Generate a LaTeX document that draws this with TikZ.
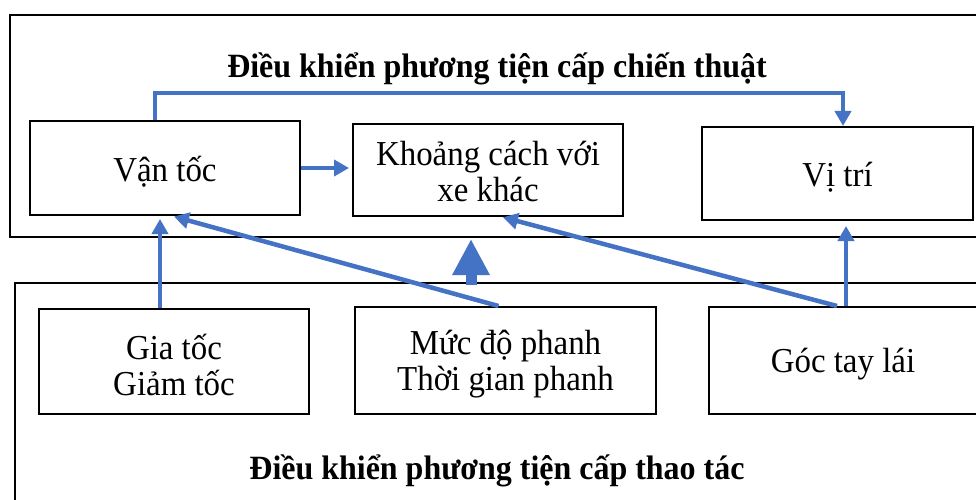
\documentclass[tikz,border=0pt]{standalone}
\usepackage{fontspec}
\setmainfont{Liberation Serif}[FakeStretch=0.94]
\usetikzlibrary{arrows.meta}
\definecolor{arrblue}{HTML}{4472C4}
\begin{document}
\begin{tikzpicture}[x=1pt,y=-1pt,
  box/.style={draw=black,line width=2pt,rectangle,inner sep=0pt},
  lbl/.style={inner sep=0pt,align=center,font=\fontsize{35}{36}\selectfont},
  title/.style={font=\fontsize{34}{38}\selectfont\bfseries},
  arr/.style={draw=arrblue,line width=4.5pt,-{Triangle[length=15pt,width=16pt]}},
  bigarr/.style={draw=arrblue,line width=11pt,-{Triangle[length=36pt,width=35pt]}}]
\useasboundingbox (0,0) rectangle (976,500);
\clip (0,0) rectangle (976,500);
\fill[white] (0,0) rectangle (976,500);
% outer frames
\draw[line width=2pt] (10,15) rectangle (995,237);
\draw[line width=2pt] (15,283) rectangle (995,515);
\coordinate (topbot) at (471,237);
\coordinate (botop) at (471,285);
\node[title] (t1) at (497,69) {Điều khiển phương tiện cấp chiến thuật};
\node[title] (t2) at (497,471) {Điều khiển phương tiện cấp thao tác};
% boxes
\node[box,minimum width=270pt,minimum height=94pt] (vt) at (165,168) {};
\node[box,minimum width=270pt,minimum height=92pt] (kc) at (488,170) {};
\node[box,minimum width=271pt,minimum height=93pt] (vtri) at (837.5,173.5) {};
\node[box,minimum width=270pt,minimum height=105pt] (gt) at (174,361.5) {};
\node[box,minimum width=301pt,minimum height=107pt] (md) at (505.5,360.5) {};
\node[box,minimum width=268pt,minimum height=107pt] (gl) at (843,360.5) {};
% texts
\node[lbl] (vtT) at ([yshift=-4pt]vt.center) {Vận tốc};
\node[lbl] (kcT) at ([yshift=-2pt]kc.center) {Khoảng cách với\\xe khác};
\node[lbl] (vtriT) at ([yshift=-4pt]vtri.center) {Vị trí};
\node[lbl] (gtT) at ([yshift=-3pt]gt.center) {Gia tốc\\Giảm tốc};
\node[lbl] (mdT) at ([yshift=-4pt]md.center) {Mức độ phanh\\Thời gian phanh};
\node[lbl] (glT) at ([yshift=-4pt]gl.center) {Góc tay lái};
% connectors
\coordinate (c1) at (155,93);
\coordinate (c2) at (843,93);
\draw[arr] (c1 |- vt.north) -- (c1) -- (c2) -- (c2 |- vtri.north);
\draw[arr,shorten >=3pt] (vt.east) -- (vt.east -| kc.west);
\draw[arr,shorten >=3pt] ([xshift=-14pt]gt.north) -- ([xshift=-14pt]gt.north |- vt.south);
\draw[arr,shorten >=2pt] ([xshift=-7pt]md.north) -- ([xshift=7pt]vt.south);
\draw[arr,shorten >=1pt] ([xshift=-6pt]gl.north) -- ([xshift=14pt]kc.south);
\draw[arr,shorten >=5pt] ([xshift=3pt]gl.north) -- ([xshift=3pt]gl.north |- vtri.south);
\draw[bigarr,shorten >=2pt] (botop) -- (topbot);
\end{tikzpicture}
\end{document}
